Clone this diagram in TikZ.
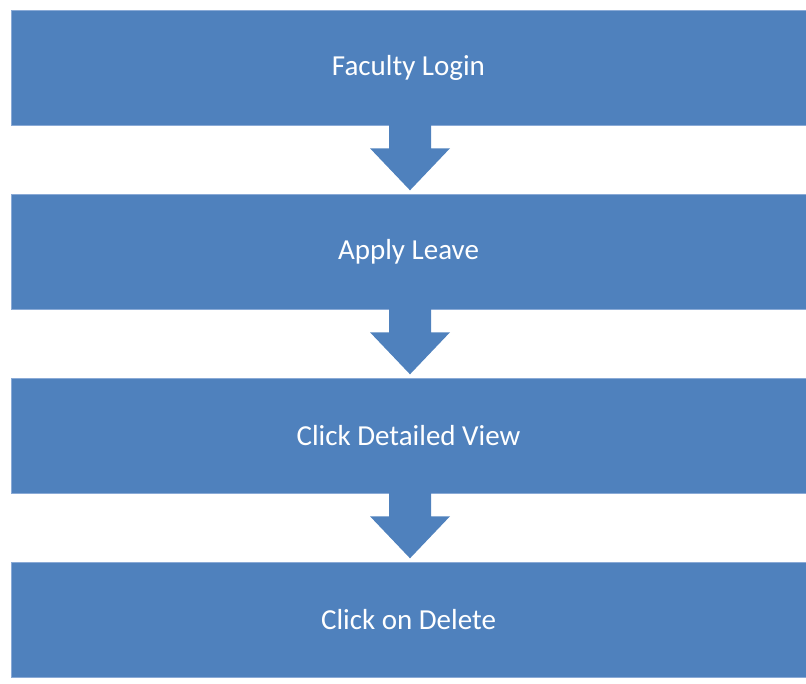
\documentclass[tikz,border=0pt]{standalone}
\usepackage{fontspec}
\setmainfont{Carlito}
\usetikzlibrary{calc}
\definecolor{boxblue}{HTML}{4F81BD}
\definecolor{edgeblue}{HTML}{8AAAD6}
\tikzset{
  stepbox/.style={fill=boxblue, draw=edgeblue, line width=0.6pt, minimum width=795pt, minimum height=115pt, inner sep=0pt, text=white, font=\fontsize{29}{34}\selectfont},
  downarrow/.style={fill=boxblue, draw=none}
}
\begin{document}
\begin{tikzpicture}[x=1pt,y=-1pt]
\useasboundingbox (0,0) rectangle (806,684);
\node[stepbox] (a) at (408.5,67.5) {Faculty Login};
\node[stepbox] (b) at (408.5,251.5) {Apply Leave};
\node[stepbox] (c) at (408.5,435.5) {Click Detailed View};
\node[stepbox] (d) at (408.5,619.5) {Click on Delete};
\fill[downarrow] ($(a.south)+(-19.5pt,0.5pt)$) -- ++(42pt,0) -- ++(0,-23.5pt) -- ++(19pt,0) -- ++(-40pt,-42pt) -- ++(-40pt,42pt) -- ++(19pt,0) -- cycle;
\fill[downarrow] ($(b.south)+(-19.5pt,0.5pt)$) -- ++(42pt,0) -- ++(0,-23.5pt) -- ++(19pt,0) -- ++(-40pt,-42pt) -- ++(-40pt,42pt) -- ++(19pt,0) -- cycle;
\fill[downarrow] ($(c.south)+(-19.5pt,0.5pt)$) -- ++(42pt,0) -- ++(0,-23.5pt) -- ++(19pt,0) -- ++(-40pt,-42pt) -- ++(-40pt,42pt) -- ++(19pt,0) -- cycle;
\end{tikzpicture}
\end{document}
